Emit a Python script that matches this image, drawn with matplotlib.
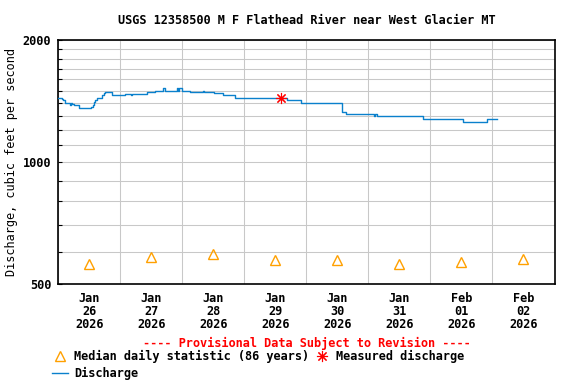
import matplotlib
matplotlib.use("Agg")
import matplotlib.pyplot as plt
import matplotlib.dates as mdates
import matplotlib.ticker as mticker
import pandas as pd
import numpy as np

# ---------------- data ----------------
title = "USGS 12358500 M F Flathead River near West Glacier MT"
ylabel = "Discharge, cubic feet per second"

q_times = ["2026-01-26 00:00", "2026-01-26 01:15", "2026-01-26 01:45", "2026-01-26 02:30",
           "2026-01-26 04:30", "2026-01-26 04:45", "2026-01-26 05:15", "2026-01-26 06:00",
           "2026-01-26 08:00", "2026-01-26 12:45", "2026-01-26 13:15", "2026-01-26 13:45",
           "2026-01-26 14:15", "2026-01-26 15:00", "2026-01-26 16:45", "2026-01-26 17:30",
           "2026-01-26 18:15", "2026-01-26 20:45", "2026-01-27 01:45", "2026-01-27 04:00",
           "2026-01-27 04:30", "2026-01-27 05:00", "2026-01-27 10:15", "2026-01-27 13:30",
           "2026-01-27 16:30", "2026-01-27 17:15", "2026-01-27 21:45", "2026-01-27 22:15",
           "2026-01-27 22:45", "2026-01-27 23:45", "2026-01-28 03:00", "2026-01-28 08:00",
           "2026-01-28 08:30", "2026-01-28 12:15", "2026-01-28 15:45", "2026-01-28 20:15",
           "2026-01-29 16:30", "2026-01-29 22:00", "2026-01-30 06:15", "2026-01-30 13:45",
           "2026-01-30 15:30", "2026-01-31 02:15", "2026-01-31 02:30", "2026-01-31 03:15",
           "2026-01-31 21:15", "2026-02-01 03:45", "2026-02-01 12:45", "2026-02-01 21:45",
           "2026-02-02 00:15", "2026-02-02 01:45"]
q_values = [1440, 1430, 1420, 1400,
            1380, 1400, 1390, 1380,
            1360, 1370, 1380, 1410,
            1420, 1440, 1460, 1480,
            1490, 1460, 1470, 1460,
            1470, 1475, 1490, 1500,
            1520, 1500, 1520, 1500,
            1520, 1500, 1490, 1500,
            1490, 1480, 1460, 1440,
            1420, 1400, 1395, 1325,
            1310, 1300, 1310, 1300,
            1280, 1275, 1255, 1275,
            1280, 1280]

median_days = ["2026-01-26 12:00", "2026-01-27 12:00", "2026-01-28 12:00", "2026-01-29 12:00",
               "2026-01-30 12:00", "2026-01-31 12:00", "2026-02-01 12:00", "2026-02-02 12:00"]
median_values = [560, 582, 594, 573, 573, 559, 566, 577]

measured_time = ["2026-01-29 14:15"]
measured_value = [1440]

x_start = "2026-01-26 00:00"
x_end = "2026-02-03 00:00"
y_min, y_max = 500, 2000

# ---------------- figure ----------------
FONT = "DejaVu Sans Mono"
FS = 8.6
plt.rcParams["font.family"] = FONT
plt.rcParams["font.weight"] = "bold"
plt.rcParams["font.size"] = FS

W, H = 576, 384
fig = plt.figure(figsize=(W / 100, H / 100), dpi=100)
L, R, T, B = 58.3, 554.5, 40, 284
ax = fig.add_axes([L / W, 1 - B / H, (R - L) / W, (B - T) / H])

qt = pd.to_datetime(q_times)
ax.plot(qt, q_values, drawstyle="steps-post", color="#0a80cc", lw=1.0,
        label="Discharge", zorder=3)
ax.plot(pd.to_datetime(median_days), median_values, linestyle="none", marker="^",
        markersize=7.5, markerfacecolor="none", markeredgecolor="#ffa000",
        markeredgewidth=1.0, label="Median daily statistic (86 years)", zorder=4)
ax.plot(pd.to_datetime(measured_time), measured_value, linestyle="none",
        marker=(8, 2, 0), markersize=8, markeredgecolor="#ff0000",
        markeredgewidth=0.8, label="Measured discharge", zorder=5)

ax.set_yscale("log")
ax.set_ylim(y_min, y_max)
ax.set_xlim(pd.Timestamp(x_start), pd.Timestamp(x_end))

ax.yaxis.set_major_locator(mticker.FixedLocator([500, 1000, 2000]))
ax.yaxis.set_major_formatter(mticker.FixedFormatter(["500", "1000", "2000"]))
ax.yaxis.set_minor_locator(mticker.FixedLocator(list(range(600, 2000, 100))))
ax.yaxis.set_minor_formatter(mticker.NullFormatter())
ax.tick_params(axis="y", which="both", direction="in", length=3, width=0.8,
               pad=5, labelsize=FS)

ax.xaxis.set_major_locator(mdates.DayLocator())
ax.xaxis.set_major_formatter(mticker.NullFormatter())
ax.xaxis.set_minor_locator(mdates.HourLocator(byhour=[12]))
ax.xaxis.set_minor_formatter(mdates.DateFormatter("%b\n%d\n%Y"))
ax.tick_params(axis="x", which="both", length=0, pad=6, labelsize=FS)
for lab in ax.xaxis.get_minorticklabels():
    lab.set_linespacing(1.0)

ax.grid(True, which="both", axis="y", color="#c8c8c8", lw=0.75)
ax.grid(True, which="major", axis="x", color="#c8c8c8", lw=0.75)
ax.grid(False, which="minor", axis="x")
for s in ax.spines.values():
    s.set_linewidth(1.2)
    s.set_color("black")

ax.set_ylabel(ylabel, fontsize=FS)
ax.yaxis.set_label_coords(-(L - 18) / (R - L), 0.5)

fig.text((L + R) / 2 / W, 1 - 20 / H, title, ha="center", va="center", fontsize=FS)
fig.text((L + R) / 2 / W, 1 - 343 / H, "---- Provisional Data Subject to Revision ----",
         ha="center", va="center", color="#ff0000", fontsize=FS)

h, l = ax.get_legend_handles_labels()
order = [1, 0, 2]
fig.legend([h[i] for i in order], [l[i] for i in order], ncol=2,
           loc="upper left", bbox_to_anchor=(52 / W, 1 - 350 / H),
           frameon=False, fontsize=FS, handlelength=1.35, handletextpad=0.5,
           columnspacing=0.37, labelspacing=0.3, borderpad=0, borderaxespad=0)

fig.savefig("out.png", dpi=100)
